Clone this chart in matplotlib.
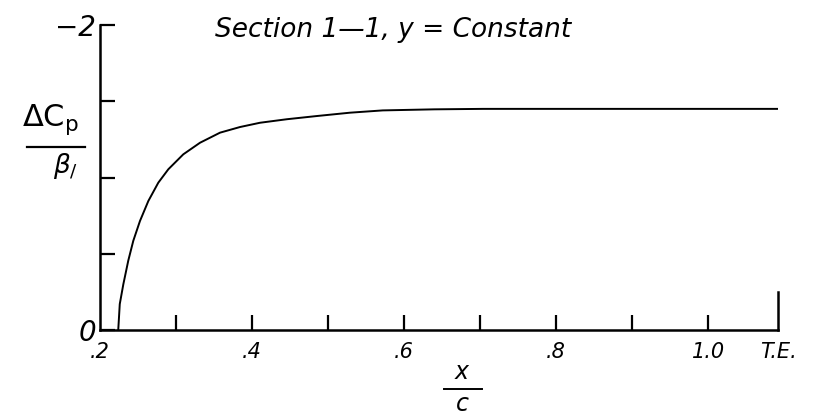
import matplotlib
matplotlib.use("Agg")
import matplotlib.pyplot as plt

# pressure-difference distribution along section 1-1 (y = constant)
x_c = [0.224, 0.226, 0.2307, 0.2372, 0.2438, 0.2526, 0.2636, 0.2767, 0.2899,
       0.3096, 0.3316, 0.3579, 0.3842, 0.4105, 0.4457, 0.4851, 0.5289, 0.572,
       0.64, 0.704, 0.80, 0.914, 1.092]
dcp_beta = [0.0, -0.17, -0.30, -0.455, -0.585, -0.715, -0.846, -0.966, -1.054,
            -1.152, -1.228, -1.294, -1.331, -1.359, -1.382, -1.403, -1.425, -1.44,
            -1.447, -1.45, -1.45, -1.45, -1.45]

x_major = [0.2, 0.4, 0.6, 0.8, 1.0]
x_major_labels = [".2", ".4", ".6", ".8", "1.0"]
x_minor = [0.3, 0.5, 0.7, 0.9]
x_te = 1.092
y_ticks = [0, -0.5, -1.0, -1.5, -2.0]
y_tick_labels = ["0", "", "", "", "\u22122"]

W, H = 818, 420
hand = dict(family=["DejaVu Sans"], style="italic", color="black")

fig = plt.figure(figsize=(W / 100, H / 100), dpi=100)
ax = fig.add_axes([100 / W, 1 - 330 / H, 678 / W, 305 / H])

ax.plot(x_c, dcp_beta, color="black", lw=1.4)

ax.set_xlim(0.2, x_te)
ax.set_ylim(0, -2)

ax.spines["top"].set_visible(False)
for side in ["left", "bottom", "right"]:
    ax.spines[side].set_linewidth(1.8)
ax.spines["right"].set_bounds(0, -0.25)

ax.set_xticks(x_major + [x_te])
ax.set_xticklabels(x_major_labels + ["T.E."], fontsize=15, **hand)
ax.set_xticks(x_minor, minor=True)
ax.tick_params(axis="x", which="both", direction="in", length=11, width=1.6, pad=9)
ax.xaxis.get_major_ticks()[0].tick1line.set_visible(False)
ax.xaxis.get_major_ticks()[-1].tick1line.set_visible(False)

ax.set_yticks(y_ticks)
ax.set_yticklabels(y_tick_labels, fontsize=20, **hand)
ax.tick_params(axis="y", direction="in", length=11, width=1.6, pad=3)
ax.tick_params(right=False)

# title inside the plot
ax.text(0.17, 0.985, "Section 1\u20141, y = Constant", transform=ax.transAxes,
        fontsize=19, ha="left", va="center", **hand)

# ordinate label  ΔCp / β1
fig.text(50 / W, 1 - 120 / H, r"$\Delta\mathrm{C}_\mathrm{p}$", fontsize=22,
         ha="center", va="center", math_fontfamily="dejavusans")
fig.add_artist(plt.Line2D([27 / W, 85 / W], [1 - 147 / H, 1 - 147 / H],
                          color="black", lw=1.6))
fig.text(66 / W, 1 - 166 / H, r"$\beta_{/}$", fontsize=19,
         ha="center", va="center", math_fontfamily="dejavusans")

# abscissa label  x / c
fig.text(462 / W, 1 - 372 / H, "x", fontsize=17, ha="center", va="center", **hand)
fig.add_artist(plt.Line2D([444 / W, 482 / W], [1 - 389 / H, 1 - 389 / H],
                          color="black", lw=1.4))
fig.text(462 / W, 1 - 404 / H, "c", fontsize=17, ha="center", va="center", **hand)

fig.savefig("out.png", dpi=100, facecolor="white")
